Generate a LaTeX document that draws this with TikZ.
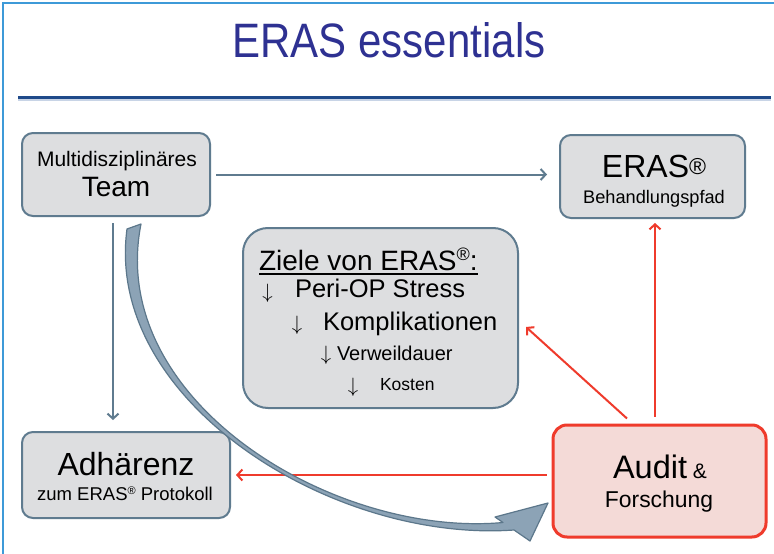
\documentclass[tikz,border=0pt]{standalone}
\usepackage{graphicx}
\usepackage{fontspec}
\setmainfont{Liberation Sans}
\usetikzlibrary{arrows.meta,calc}

\definecolor{framebl}{HTML}{3D9AD8}
\definecolor{titlebl}{HTML}{2E3192}
\definecolor{rulebl}{HTML}{1F4A8A}
\definecolor{ruleshade}{HTML}{C8D4E6}
\definecolor{boxline}{HTML}{5F7B8F}
\definecolor{boxfill}{HTML}{DDDEE0}
\definecolor{redline}{HTML}{EF3B2C}
\definecolor{auditfill}{HTML}{F4DAD7}
\definecolor{ribbonfill}{HTML}{8CA3B6}
\definecolor{ribbonedge}{HTML}{5C778B}

% font size in points, line height equal to it
\newcommand\fsz[1]{\fontsize{#1}{#1}\selectfont}
% registered sign: size, raise
\newcommand\regmark[2]{\raisebox{#2}{\fsz{#1}®}}

\begin{document}
\begin{tikzpicture}[x=1pt,y=-1pt,
  box/.style={draw=boxline, fill=boxfill, line width=2pt, rounded corners=11pt, inner sep=0pt},
  txt/.style={inner sep=0pt, outer sep=0pt, anchor=base},
  txtl/.style={inner sep=0pt, outer sep=0pt, anchor=base west},
  gray link/.style={draw=boxline, line width=2pt, -{Straight Barb[length=5pt,width=11pt]}},
  red link/.style={draw=redline, line width=2pt, -{Straight Barb[length=5pt,width=11pt]}},
  ribbon/.style={fill=ribbonfill, draw=ribbonedge, line width=1.2pt, line join=round},
]
\useasboundingbox (0,0) rectangle (774,554);
\fill[white] (0,0) rectangle (774,554);

% slide frame
\draw[framebl, line width=2.5pt] (3,554) -- (3,3) -- (774,3);

% title and rule
\node[txt, font=\fsz{42}, text=titlebl] (title) at (389,57) {\scalebox{1}[1.15]{ERAS essentials}};
\draw[ruleshade, line width=2pt] (18,100) -- (771,100);
\draw[rulebl, line width=3pt] (18,97) -- (771,97);

% boxes
\node[box, minimum width=188pt, minimum height=83pt] (team) at (116,174.5) {};
\node[box, minimum width=185pt, minimum height=83pt] (eras) at (652.5,176.5) {};
\node[box, minimum width=275pt, minimum height=180pt, rounded corners=25pt] (ziele) at (380.5,318) {};
\node[box, minimum width=208pt, minimum height=86pt] (adh) at (126,475) {};
\node[box, draw=redline, fill=auditfill, line width=3pt, rounded corners=14pt,
      minimum width=213pt, minimum height=112pt] (audit) at (659.5,481) {};

% box texts
\node[txt, font=\fsz{21}] (team-a) at (117,166) {Multidisziplinäres};
\node[txt, font=\fsz{28}] (team-b) at (116,196) {Team};

\node[txt, font=\fsz{32}] (eras-a) at (654,177) {ERAS\regmark{23}{3pt}};
\node[txt, font=\fsz{18.2}] (eras-b) at (654,203) {Behandlungspfad};

\node[txtl, font=\fsz{28}] (goal-h) at (259,270) {Ziele von ERAS\regmark{18}{10pt}:};
\draw[line width=1.6pt] ([yshift=-4pt]goal-h.base west) -- ([yshift=-4pt]goal-h.base east);
\node[txt, font=\fsz{22}] (arr1) at (267.5,298) {$\downarrow$};
\node[txtl, font=\fsz{25.5}] (goal1) at (295,297) {Peri-OP Stress};
\node[txt, font=\fsz{22}] (arr2) at (297,330) {$\downarrow$};
\node[txtl, font=\fsz{25.5}] (goal2) at (323,330) {Komplikationen};
\node[txt, font=\fsz{22}] (arr3) at (326,360) {$\downarrow$};
\node[txtl, font=\fsz{20}] (goal3) at (337,360) {Verweildauer};
\node[txt, font=\fsz{22}] (arr4) at (353,392) {$\downarrow$};
\node[txtl, font=\fsz{17.5}] (goal4) at (380,390) {Kosten};

\node[txt, font=\fsz{32}] (adh-a) at (126,475) {Adhärenz};
\node[txt, font=\fsz{18.5}] (adh-b) at (125,500) {zum ERAS\regmark{11}{6pt} Protokoll};

\node[txt, font=\fsz{32.5}] (aud-a) at (660,478) {Audit{\fsz{21} \&}};
\node[txt, font=\fsz{22.9}] (aud-b) at (659,507) {Forschung};

% connectors
\draw[gray link, shorten <=5pt, shorten >=12pt] (team.east) -- (team.east -| eras.west);
\draw[gray link, shorten <=6pt, shorten >=11pt] ([xshift=-3pt]team.south) -- ([xshift=-3pt]team.south |- adh.north);
\draw[red link, shorten <=7pt, shorten >=4pt] ([xshift=2.5pt]eras.south |- audit.north) -- ([xshift=2.5pt]eras.south);
\draw[red link] ($(audit.north)+(-32.5,-5)$) -- ($(ziele.east)+(7,9)$);
\draw[red link, shorten <=5pt, shorten >=5pt] (audit.west |- adh.east) -- (adh.east);

% curved block arrow from the team down to the audit
\path[ribbon] (127,229) .. controls (104,400) and (331,543) .. (514,530)
  -- (530,541) -- (548,503) -- (495,517) -- (503,522.5)
  .. controls (333,538) and (106,400) .. (141,224) -- cycle;
\end{tikzpicture}
\end{document}
